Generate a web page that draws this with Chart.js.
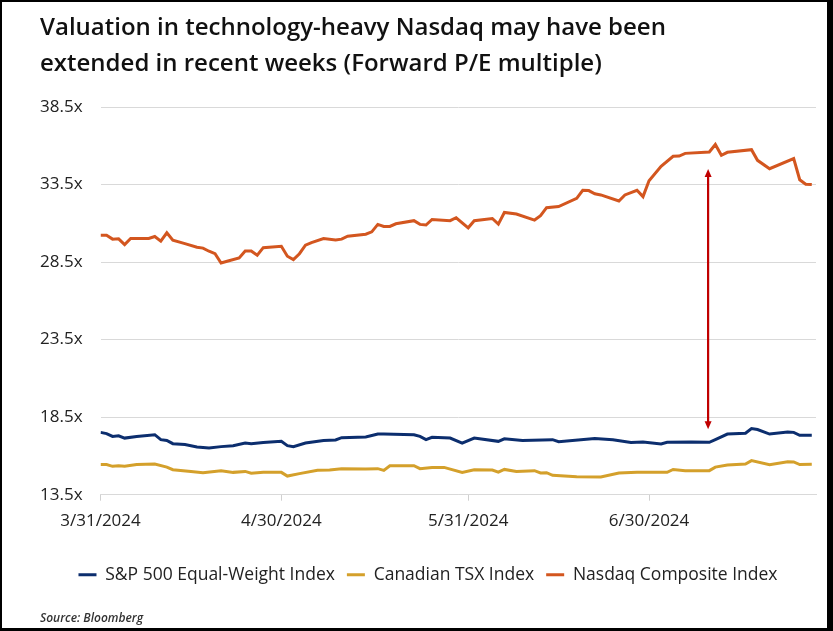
<!DOCTYPE html>
<html>
<head>
<meta charset="utf-8">
<script src="https://cdn.jsdelivr.net/npm/chart.js@4.4.1/dist/chart.umd.min.js"></script>
<style>
  html, body { margin: 0; padding: 0; background: #fff; }
  #frame {
    width: 833px; height: 631px; box-sizing: border-box;
    border-style: solid; border-color: #000;
    border-width: 2px 6px 3px 2px;
    position: relative; background: #fff;
  }
  #frame canvas { display: block; }
</style>
</head>
<body>
<div id="frame"><canvas id="peChart"></canvas></div>
<script>
// days since 3/31/2024
const spxDays = [0,1,2,3,4,6,9,10,11,12,14,16,18,20,22,24,25,27,30,31,32,34,37,39,40,44,46,47,52,53,54,55,58,60,62,66,67,70,75,76,82,85,88,90,93,94,98,101,102,104,107,108,109,111,114,115,116,118];
const spxPE = [17.52,17.44,17.26,17.3,17.15,17.26,17.37,17.05,17.0,16.79,16.73,16.57,16.51,16.6,16.66,16.83,16.79,16.86,16.94,16.66,16.6,16.83,17.0,17.03,17.18,17.22,17.41,17.41,17.37,17.26,17.05,17.2,17.15,16.83,17.15,16.94,17.1,17.0,17.05,16.92,17.12,17.05,16.86,16.9,16.77,16.88,16.9,16.88,17.05,17.41,17.46,17.76,17.7,17.41,17.54,17.52,17.33,17.33];

const tsxDays = [0,1,2,3,4,6,9,11,12,15,17,20,22,24,25,27,30,31,33,36,38,40,44,46,47,48,52,53,55,57,60,62,65,66,67,69,72,73,74,75,79,83,86,89,94,95,97,101,102,104,107,108,111,114,115,116,118];
const tsxPE = [15.44,15.44,15.33,15.37,15.33,15.44,15.48,15.28,15.11,15.0,14.92,15.05,14.94,15.0,14.88,14.94,14.94,14.7,14.86,15.07,15.1,15.18,15.16,15.18,15.07,15.37,15.37,15.18,15.26,15.26,14.94,15.11,15.09,14.96,15.13,15.0,15.05,14.9,14.92,14.75,14.66,14.64,14.9,14.94,14.94,15.13,15.05,15.05,15.28,15.41,15.48,15.7,15.44,15.63,15.61,15.44,15.46];

const ndqDays = [0,1,2,3,4,5,8,9,10,11,12,14,16,17,18,19,20,21,23,24,25,26,27,30,31,32,33,34,35,37,39,40,41,44,45,46,47,48,49,52,53,54,55,58,59,61,62,65,66,67,69,72,73,74,76,79,80,81,82,83,86,87,89,90,91,93,95,96,97,101,102,103,104,108,109,111,115,116,117,118];
const ndqPE = [30.23,30.23,29.98,30.0,29.63,30.02,30.02,30.15,29.85,30.39,29.91,29.69,29.46,29.4,29.2,29.04,28.44,28.55,28.77,29.22,29.22,28.94,29.43,29.52,28.88,28.66,29.04,29.59,29.76,30.02,29.93,29.98,30.17,30.3,30.45,30.93,30.8,30.8,30.97,31.17,30.93,30.89,31.25,31.17,31.36,30.71,31.17,31.31,30.95,31.7,31.6,31.21,31.49,32.01,32.08,32.61,33.13,33.11,32.9,32.83,32.44,32.83,33.13,32.72,33.74,34.67,35.32,35.34,35.51,35.6,36.08,35.39,35.58,35.75,35.06,34.52,35.17,33.81,33.52,33.5];

const tickDays = [0, 30, 61, 91];
const tickLabels = ['3/31/2024', '4/30/2024', '5/31/2024', '6/30/2024'];

// gap marker between Nasdaq and S&P EW
const arrowDay = 100.8;
const arrowFrom = 17.72;
const arrowTo = 34.5;

const toXY = (days, vals) => days.map((d, i) => ({x: d, y: vals[i]}));

const arrowPlugin = {
    id: 'gapArrow',
    afterDatasetsDraw(chart) {
        const {ctx, scales: {x, y}} = chart;
        const px = x.getPixelForValue(arrowDay);
        const y1 = y.getPixelForValue(arrowFrom);
        const y2 = y.getPixelForValue(arrowTo);
        const head = 8, half = 3.5;
        ctx.save();
        ctx.strokeStyle = '#c00000';
        ctx.fillStyle = '#c00000';
        ctx.lineWidth = 2.2;
        ctx.beginPath();
        ctx.moveTo(px, y2 + head - 1);
        ctx.lineTo(px, y1 - head + 1);
        ctx.stroke();
        ctx.beginPath();
        ctx.moveTo(px, y2);
        ctx.lineTo(px - half, y2 + head);
        ctx.lineTo(px + half, y2 + head);
        ctx.closePath();
        ctx.fill();
        ctx.beginPath();
        ctx.moveTo(px, y1);
        ctx.lineTo(px - half, y1 - head);
        ctx.lineTo(px + half, y1 - head);
        ctx.closePath();
        ctx.fill();
        ctx.restore();
    }
};

const fontFamily = "'Open Sans', 'DejaVu Sans', sans-serif";

new Chart(document.getElementById('peChart').getContext('2d'), {
    type: 'line',
    data: {
        datasets: [
            {label: 'S&P 500 Equal-Weight Index', data: toXY(spxDays, spxPE), borderColor: '#0c2e6e', backgroundColor: '#0c2e6e', borderWidth: 3},
            {label: 'Canadian TSX Index', data: toXY(tsxDays, tsxPE), borderColor: '#d4a02b', backgroundColor: '#d4a02b', borderWidth: 3},
            {label: 'Nasdaq Composite Index', data: toXY(ndqDays, ndqPE), borderColor: '#d3561f', backgroundColor: '#d3561f', borderWidth: 3}
        ]
    },
    options: {
        responsive: true,
        maintainAspectRatio: false,
        animation: false,
        parsing: false,
        elements: {
            line: {borderWidth: 3, tension: 0},
            point: {radius: 0, hoverRadius: 0}
        },
        layout: {padding: {left: 38, right: 11, top: 8, bottom: 2}},
        plugins: {
            title: {
                display: true,
                align: 'start',
                text: ['Valuation in technology-heavy Nasdaq may have been', 'extended in recent weeks (Forward P/E multiple)'],
                color: '#111',
                font: {family: fontFamily, size: 24, weight: '600', lineHeight: 1.5},
                padding: {top: 0, bottom: 25}
            },
            subtitle: {
                display: true,
                position: 'bottom',
                align: 'start',
                text: 'Source: Bloomberg',
                color: '#333',
                font: {family: fontFamily, size: 12, style: 'italic', weight: '600'},
                padding: {top: 18, bottom: 0}
            },
            legend: {
                position: 'bottom',
                labels: {
                    usePointStyle: true,
                    pointStyle: 'line',
                    pointStyleWidth: 18,
                    color: '#222',
                    padding: 12,
                    font: {family: fontFamily, size: 17.5}
                }
            },
            tooltip: {enabled: false}
        },
        scales: {
            x: {
                type: 'linear',
                min: 0,
                max: 118.7,
                afterBuildTicks: (axis) => { axis.ticks = tickDays.map(v => ({value: v})); },
                afterFit: (axis) => { axis.height += 13; },
                ticks: {
                    autoSkip: false,
                    maxRotation: 0,
                    padding: 10,
                    color: '#222',
                    font: {family: fontFamily, size: 17},
                    callback: (v) => tickLabels[tickDays.indexOf(v)]
                },
                grid: {drawOnChartArea: false, drawTicks: true, tickLength: 6, color: '#d0d0d0'},
                border: {display: true, color: '#d9d9d9'}
            },
            y: {
                min: 13.5,
                max: 38.5,
                afterFit: (axis) => { axis.width -= 18; },
                ticks: {
                    stepSize: 5,
                    padding: 18,
                    color: '#222',
                    font: {family: fontFamily, size: 17},
                    callback: (v) => v.toFixed(1) + 'x'
                },
                grid: {color: '#d9d9d9', drawTicks: false},
                border: {display: false}
            }
        }
    },
    plugins: [arrowPlugin]
});
</script>
</body>
</html>
